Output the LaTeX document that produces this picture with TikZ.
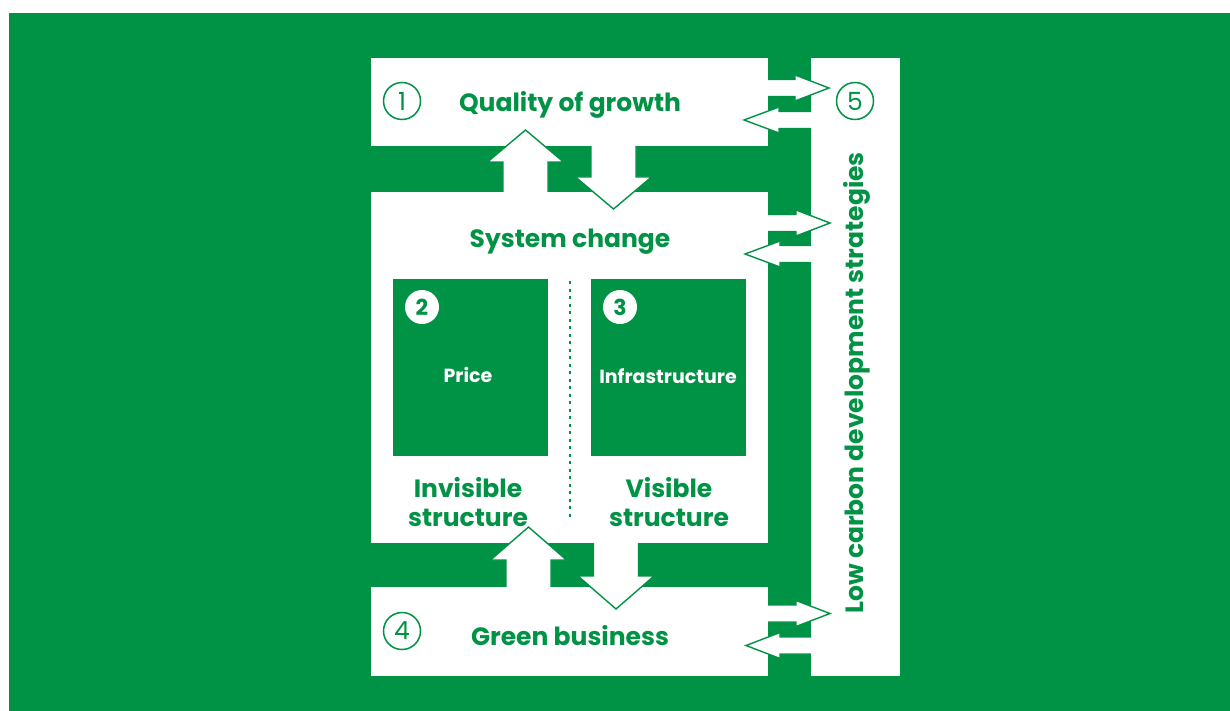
\documentclass[tikz,border=0pt]{standalone}
\usepackage{fontspec}
\setmainfont{Poppins}
\definecolor{gr}{RGB}{0,146,69}
\newcommand\varrow[5]{% cx, ydraw, yfill, ybase, ytip
  \fill[white] ({#1-22.5},#3) -- ({#1-22.5},#4) -- ({#1-38},#4) -- (#1,#5) -- ({#1+38},#4) -- ({#1+22.5},#4) -- ({#1+22.5},#3) -- cycle;
  \draw[arrline] ({#1-22.5},#2) -- ({#1-22.5},#4) -- ({#1-38},#4) -- (#1,#5) -- ({#1+38},#4) -- ({#1+22.5},#4) -- ({#1+22.5},#2);}
\newcommand\harrow[5]{% xdraw, xfill, xbase, xtip, cy
  \fill[white] (#2,{#5-8.5}) -- (#3,{#5-8.5}) -- (#3,{#5-13}) -- (#4,#5) -- (#3,{#5+13}) -- (#3,{#5+8.5}) -- (#2,{#5+8.5}) -- cycle;
  \draw[arrline] (#1,{#5-8.5}) -- (#3,{#5-8.5}) -- (#3,{#5-13}) -- (#4,#5) -- (#3,{#5+13}) -- (#3,{#5+8.5}) -- (#1,{#5+8.5});}
\begin{document}
\begin{tikzpicture}[x=1pt,y=-1pt,
  box/.style={fill=white,draw=none,inner sep=0,outer sep=0},
  inbox/.style={fill=gr,draw=none,inner sep=0,minimum width=155,minimum height=177},
  arrline/.style={draw=gr,line width=1.4pt,line join=miter},
  lbl/.style={text=gr,font=\bfseries\fontsize{25}{29}\selectfont,align=center,inner sep=0},
  wlbl/.style={text=white,font=\bfseries\fontsize{19}{23}\selectfont,inner sep=0},
  ocirc/.style={circle,draw=gr,line width=1.5pt,minimum size=37,inner sep=0,text=gr,font=\fontsize{25}{29}\selectfont},
  fcirc/.style={circle,fill=white,minimum size=34,inner sep=0,text=gr,font=\bfseries\fontsize{22}{26}\selectfont}]
\useasboundingbox (0,0) rectangle (1230,711);
\fill[white] (0,0) rectangle (1230,711);
\fill[gr] (9,13) rectangle (1230,711);
% boxes
\node[box,minimum width=397,minimum height=88] (q) at (569.5,102) {};
\node[box,minimum width=397,minimum height=351] (s) at (569.5,367.5) {};
\node[box,minimum width=397,minimum height=89] (g) at (569.5,631.5) {};
\node[box,minimum width=89,minimum height=618] (l) at (855.5,367) {};
% inner boxes
\node[inbox] (p) at (470.5,367.5) {};
\node[inbox] (i) at (668.5,367.5) {};
\draw[gr,line width=2pt,dash pattern=on 3pt off 4.5pt] (570,281) -- (570,521);
% vertical arrows
\varrow{525.5}{192}{194}{162}{130}
\varrow{613.5}{146}{144}{177}{209}
\varrow{528.5}{587}{589}{560}{527}
\varrow{616}{543}{541}{576}{609}
% horizontal arrows
\harrow{768}{766}{795}{829}{88}
\harrow{811}{813}{779}{744}{120}
\harrow{768}{766}{796}{830}{223}
\harrow{811}{813}{780}{745}{254}
\harrow{768}{766}{796}{830}{613.5}
\harrow{811}{813}{780}{746}{645.5}
% labels
\node[lbl] (tq) at (570,105) {Quality of growth};
\node[lbl] (ts) at (570,242) {System change};
\node[lbl] (tg) at (570,636) {Green business};
\node[lbl] (tinv) at (468,502) {Invisible\\structure};
\node[lbl] (tvis) at (669,502) {Visible\\structure};
\node[lbl,rotate=90] (tl) at (857,383) {Low carbon development strategies};
\node[wlbl] (tp) at (468,375) {Price};
\node[wlbl] (ti) at (668,376) {Infrastructure};
% number circles
\node[ocirc] (c1) at (402,101) {\raisebox{-1pt}{1}};
\node[ocirc] (c5) at (855,101) {\raisebox{-1pt}{5}};
\node[ocirc] (c4) at (402,631) {\raisebox{-1pt}{4}};
\node[fcirc] (c2) at (422,307) {\raisebox{-1pt}{2}};
\node[fcirc] (c3) at (620,307) {\raisebox{-1pt}{3}};
\end{tikzpicture}
\end{document}
